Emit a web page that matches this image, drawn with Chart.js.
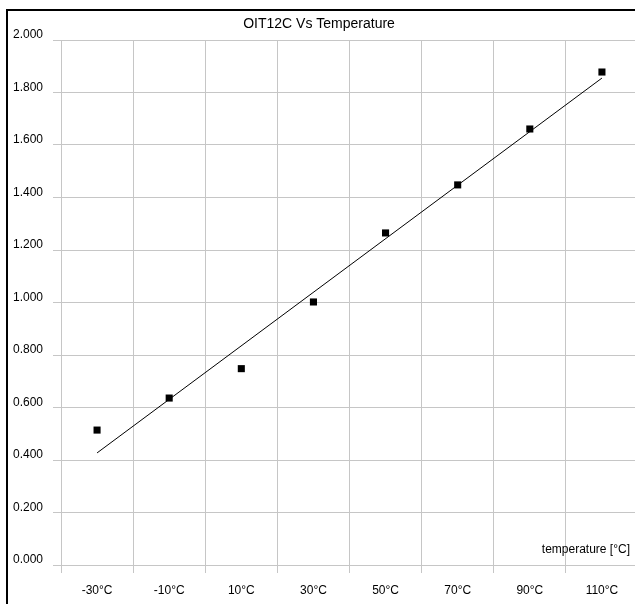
<!DOCTYPE html>
<html>
<head>
<meta charset="utf-8">
<script src="https://cdn.jsdelivr.net/npm/chart.js@4.4.1/dist/chart.umd.min.js"></script>
<style>
  html, body { margin: 0; padding: 0; overflow: hidden; background: #fff; }
  #wrap { position: relative; width: 676px; height: 604px; }
  #frame {
    position: absolute; left: 6px; top: 9px; right: 0; bottom: 0;
    border-left: 2px solid #000; border-top: 2px solid #000;
    pointer-events: none;
  }
</style>
</head>
<body>
<div id="wrap">
  <canvas id="oitChart" width="676" height="604"></canvas>
  <div id="frame"></div>
</div>
<script>
// data
const temperatures = ['-30°C', '-10°C', '10°C', '30°C', '50°C', '70°C', '90°C', '110°C'];
const oitValues = [0.514, 0.636, 0.748, 1.002, 1.265, 1.448, 1.661, 1.878];
// trend line: only its two end points are visible
const trendValues = [0.427, null, null, null, null, null, null, 1.855];
const yMin = 0;
const yMax = 2;
const yStep = 0.2;
const chartTitle = 'OIT12C Vs Temperature';
const xAxisName = 'temperature [°C]';

const gridColor = '#c6c6c6';
const fontFamily = '"Liberation Sans", Arial, sans-serif';

// axis name sits inside the plot, bottom right
const axisNotePlugin = {
  id: 'axisNote',
  afterDatasetsDraw(chart) {
    const { ctx, chartArea } = chart;
    ctx.save();
    ctx.font = '12px ' + fontFamily;
    ctx.fillStyle = '#000';
    ctx.textAlign = 'right';
    ctx.textBaseline = 'middle';
    ctx.fillText(xAxisName, chartArea.right - 8, chartArea.bottom - 15);
    ctx.restore();
  }
};

const ctx = document.getElementById('oitChart').getContext('2d');
const oitChart = new Chart(ctx, {
  type: 'line',
  data: {
    labels: temperatures,
    datasets: [
      {
        label: 'OIT12C',
        data: oitValues,
        showLine: false,
        pointStyle: 'rect',
        pointRadius: 5,
        pointBorderWidth: 0,
        pointBackgroundColor: '#000',
        order: 1
      },
      {
        label: 'Trend',
        data: trendValues,
        spanGaps: true,
        borderColor: '#000',
        borderWidth: 1,
        pointRadius: 0,
        fill: false,
        order: 2
      }
    ]
  },
  options: {
    responsive: false,
    animation: false,
    layout: { padding: { left: 0, right: 38, top: 0, bottom: 0 } },
    plugins: {
      legend: { display: false },
      tooltip: { enabled: false },
      title: {
        display: true,
        text: chartTitle,
        color: '#000',
        font: { family: fontFamily, size: 14, weight: 'normal' },
        padding: { top: 16, bottom: 7.2 }
      }
    },
    scales: {
      x: {
        type: 'category',
        offset: true,
        border: { display: false },
        grid: { offset: true, color: gridColor, tickLength: 8, drawTicks: true },
        ticks: {
          color: '#000',
          padding: 10,
          maxRotation: 0,
          autoSkip: false,
          font: { family: fontFamily, size: 12 }
        },
        afterFit(scale) { scale.height = 39; }
      },
      y: {
        min: yMin,
        max: yMax,
        border: { display: false },
        grid: { color: gridColor, tickLength: 8, drawTicks: true },
        ticks: {
          stepSize: yStep,
          color: '#000',
          padding: 10,
          font: { family: fontFamily, size: 12, lineHeight: '10px' },
          // second empty line lifts the label a few px above its grid line
          callback: value => [value.toFixed(3), '']
        },
        afterFit(scale) { scale.width = 61; }
      }
    }
  },
  plugins: [axisNotePlugin]
});
</script>
</body>
</html>
